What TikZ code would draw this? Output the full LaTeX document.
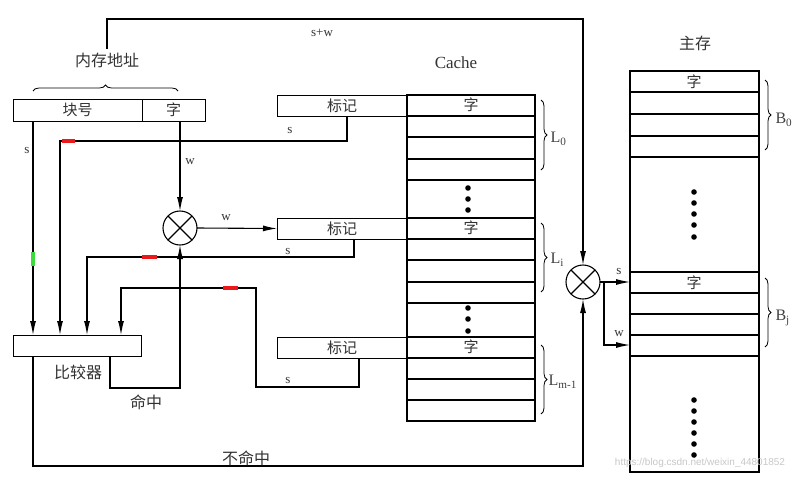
\documentclass[tikz,border=0pt]{standalone}
\usepackage{fontspec}
\setmainfont{Liberation Serif}
\newfontfamily\cjk{Noto Sans CJK SC}
\newfontfamily\wmfont{Liberation Sans}
\usetikzlibrary{arrows.meta,decorations.pathreplacing}
\definecolor{mkred}{RGB}{235,25,25}
\definecolor{mkgreen}{RGB}{60,220,60}
\tikzset{
  box/.style={draw,line width=1pt,inner sep=0pt,outer sep=0pt,minimum height=21,font=\cjk\fontsize{15}{15}\selectfont,text=black!80},
  cn/.style={font=\cjk\fontsize{16}{16}\selectfont,text=black!80},
  lab/.style={font=\fontsize{13}{13}\selectfont,text=black!80},
  sub/.style={font=\fontsize{16}{16}\selectfont,text=black!75,anchor=west,inner sep=0pt},
  arr/.style={-{Latex[length=14pt,width=6pt]}},
  mux/.style={circle,draw,minimum size=34,inner sep=0pt,outer sep=0pt,
    path picture={\draw (path picture bounding box.north west) -- (path picture bounding box.south east)
      (path picture bounding box.north east) -- (path picture bounding box.south west);}},
  brc/.style={decorate,decoration={brace,amplitude=6pt},line width=0.8pt},
  hilite/.style={line width=4pt}
}
\begin{document}
\begin{tikzpicture}[x=1pt,y=-1pt,line width=1.1pt]
\useasboundingbox (0,0) rectangle (800,477);
% memory address
\node[box,minimum width=129,minimum height=22,anchor=north west] (blk) at (13,99) {块号};
\node[box,minimum width=63,minimum height=22,anchor=west] (wd) at (blk.east) {字};
\draw[brc] (33,91) -- (178,91);
\node[cn] (addr) at (107,60) {内存地址};
% comparator
\node[box,minimum width=128,anchor=north west] (cmp) at (13,335) {};
\node[cn] (cmplbl) at (78,372) {比较器};
\path (cmp.north west) ++(20,0) coordinate (in1) ++(27,0) coordinate (in2)
  ++(27,0) coordinate (in3) ++(34,0) coordinate (in4);
% multiplexers
\node[mux] (mux1) at (180,228) {};
\node[mux] (mux2) at (583,282) {};
% cache
\node[font=\fontsize{17}{17}\selectfont,text=black!80] (cachelbl) at (456,63) {Cache};
\node[draw,minimum width=128,minimum height=326,inner sep=0pt,outer sep=0pt,anchor=north west] (cache) at (407,95) {};
\foreach \y in {116,137,159,180,218,239,260,282,303,337,358,379,400}
  \draw (407,\y) -- (535,\y);
\node[box,minimum width=130,anchor=north west] (tag0) at (277,95) {标记};
\node[box,minimum width=130,anchor=north west] (tagi) at (277,218) {标记};
\node[box,minimum width=130,anchor=north west] (tagm) at (277,337) {标记};
\node[cn,font=\cjk\fontsize{15}{15}\selectfont] (c0) at (471,105) {字};
\node[cn,font=\cjk\fontsize{15}{15}\selectfont] (ci) at (471,228) {字};
\node[cn,font=\cjk\fontsize{15}{15}\selectfont] (cm) at (471,347) {字};
\foreach \y in {188,199,210,308,319,331}
  \fill (468,\y) circle (2.8);
\draw[brc] (541,100) -- (541,170);
\node[sub] (l0) at (550,139) {L\textsubscript{0}};
\draw[brc] (541,223) -- (541,292);
\node[sub] (li) at (550,260) {L\textsubscript{i}};
\draw[brc] (541,345) -- (541,414);
\node[sub] (lm) at (548,382) {L\textsubscript{m-1}};
% main memory
\node[cn] (mmlbl) at (695,43) {主存};
\node[draw,minimum width=129,minimum height=401,inner sep=0pt,outer sep=0pt,anchor=north west] (mm) at (630,71) {};
\foreach \y in {92,114,136,157,272,293,314,335,356}
  \draw (630,\y) -- (759,\y);
\node[cn,font=\cjk\fontsize{15}{15}\selectfont] (m0) at (694,82) {字};
\node[cn,font=\cjk\fontsize{15}{15}\selectfont] (mj) at (694,283) {字};
\foreach \y in {192,203,214,225,237,400,411,422,433,444,455}
  \fill (694,\y) circle (2.8);
\draw[brc] (765,80) -- (765,150);
\node[sub] (b0) at (775,120) {B\textsubscript{0}};
\draw[brc] (765,278) -- (765,347);
\node[sub] (bj) at (775,318) {B\textsubscript{j}};
% connectors
\draw[arr] (addr.north) -- (addr.north |- 0,19) -| (mux2.north);
\draw[arr] (blk.south -| in1) -- (in1);
\draw[arr] ([xshift=5]tag0.south) -- ++(0,25) -| (in2);
\draw[arr] ([xshift=12]tagi.south) -- ++(0,18) -| (in3);
\draw[arr] ([xshift=17]tagm.south) -- ++(0,29) -| ++(-103,-99) -| (in4);
\draw[arr] (wd.south -| mux1) -- (mux1.north);
\draw[arr] (mux1.east) -- (tagi.west);
\draw[arr] ([xshift=-31]cmp.south east) -- ++(0,32) -| (mux1.south);
\draw[arr] (cmp.south -| in1) -- ++(0,110) -| (mux2.south);
\draw[arr] (mux2.east) -- (mux2.east -| mm.west);
\draw[arr] ([xshift=4]mux2.east) |- ++(26,63);
% marks
\draw[hilite,mkred] (62,141) -- (75,141);
\draw[hilite,mkred] (142,257) -- (157,257);
\draw[hilite,mkred] (223,288) -- (238,288);
\draw[hilite,mkgreen] (33,252) -- (33,266);
% labels
\node[lab] (lsw) at (322,33) {s+w};
\node[lab] (ls1) at (27,150) {s};
\node[lab] (ls2) at (290,130) {s};
\node[lab] (lw1) at (190,162) {w};
\node[lab] (lw2) at (226,218) {w};
\node[lab] (ls3) at (288,251) {s};
\node[lab] (ls4) at (288,380) {s};
\node[lab] (ls5) at (619,271) {s};
\node[lab] (lw3) at (619,334) {w};
\node[cn] (hit) at (146,402) {命中};
\node[cn] (miss) at (246,458) {不命中};
\node[font=\wmfont\fontsize{10}{10}\selectfont,text=black!22] (wm) at (700,463) {https://blog.csdn.net/weixin\_44801852};
\end{tikzpicture}
\end{document}
